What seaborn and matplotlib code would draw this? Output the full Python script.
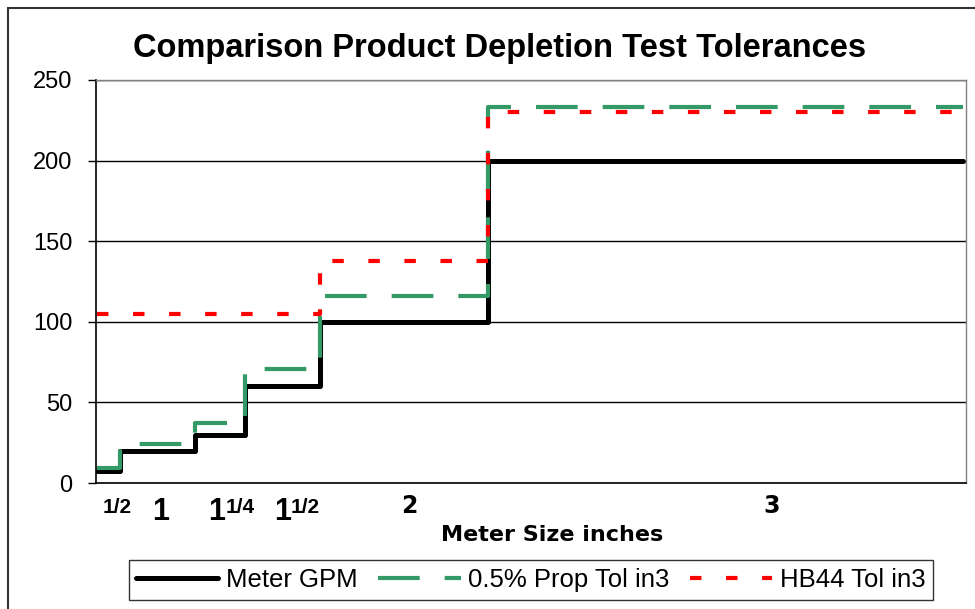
import pandas as pd
import seaborn as sns
import matplotlib.pyplot as plt
import matplotlib.transforms as mtransforms
from matplotlib.patches import Rectangle

# category axis has no ticks, values change in steps at these positions (0..100)
step_x = [0, 2.7, 11.3, 17.1, 25.7, 45.1, 100]
meter_gpm = [7.5, 20, 30, 60, 100, 200]
prop_tol = [9, 24, 37, 71, 116, 233]
hb44_tol = [105, 105, 105, 105, 138, 230]

# meter size labels written under the axis (whole part, fraction part, position)
size_whole = ["", "1", "1", "1", "2", "3"]
size_frac = ["1/2", "", "1/4", "1/2", "", ""]
size_x = [2.3, 7.3, 14.8, 22.4, 36.1, 77.9]

y_ticks = [0, 50, 100, 150, 200, 250]

sns.set_style("white")
plt.rcParams['font.family'] = ['Liberation Sans', 'DejaVu Sans']
plt.rcParams['text.color'] = 'black'
plt.rcParams['ytick.color'] = 'black'
plt.rcParams['xtick.color'] = 'black'
plt.rcParams['axes.labelcolor'] = 'black'

# last level repeated so the step reaches the right edge
df = pd.DataFrame({
    "x": step_x,
    "Meter GPM": meter_gpm + [meter_gpm[-1]],
    "0.5% Prop Tol in3": prop_tol + [prop_tol[-1]],
    "HB44 Tol in3": hb44_tol + [hb44_tol[-1]],
})

fig, ax = plt.subplots(figsize=(9.75, 6.09), dpi=100)
fig.subplots_adjust(left=96 / 975, right=966 / 975, top=1 - 80 / 609, bottom=1 - 483 / 609)

sns.lineplot(data=df, x="x", y="Meter GPM", ax=ax, color="black", lw=3.6,
             drawstyle="steps-post", label="Meter GPM")
sns.lineplot(data=df, x="x", y="0.5% Prop Tol in3", ax=ax, color="#339966", lw=3,
             linestyle=(0, (10, 6)), drawstyle="steps-post", label="0.5% Prop Tol in3")
sns.lineplot(data=df, x="x", y="HB44 Tol in3", ax=ax, color="#ff0000", lw=3,
             linestyle=(0, (2.75, 5.9)), drawstyle="steps-post", label="HB44 Tol in3")

ax.set_xlim(-0.115, 100.35)
ax.set_ylim(0, 250)
ax.set_yticks(y_ticks)
ax.set_xticks([])
ax.set_xlabel("")
ax.set_ylabel("")
ax.yaxis.grid(True, color="black", lw=1)
ax.set_axisbelow(True)
ax.tick_params(axis="y", direction="out", length=6, width=1, color="black",
               pad=11, labelsize=17, labelcolor="black", left=True)

for side in ["top", "right"]:
    ax.spines[side].set_color("#808080")
    ax.spines[side].set_linewidth(1)
for side in ["left", "bottom"]:
    ax.spines[side].set_color("black")
    ax.spines[side].set_linewidth(1.2)

# meter size labels
trans = mtransforms.blended_transform_factory(ax.transData, ax.transAxes)
for whole, frac, xpos in zip(size_whole, size_frac, size_x):
    if whole and frac:
        ax.text(xpos, -0.0918, whole, transform=trans, ha="right", va="baseline",
                fontsize=22, fontweight="bold")
        ax.text(xpos, -0.0744, frac, transform=trans, ha="left", va="baseline",
                fontsize=15, fontweight="bold")
    elif whole == "1":
        ax.text(xpos, -0.0918, whole, transform=trans, ha="center", va="baseline",
                fontsize=22, fontweight="bold")
    elif whole:
        ax.text(xpos, -0.0744, whole, transform=trans, ha="center", va="baseline",
                fontsize=17, fontweight="bold", family="DejaVu Sans")
    else:
        ax.text(xpos, -0.0744, frac, transform=trans, ha="center", va="baseline",
                fontsize=15, fontweight="bold")

fig.text(552 / 975, 1 - 541 / 609, "Meter Size inches", ha="center", va="baseline",
         fontsize=16, fontweight="bold", family="DejaVu Sans")
fig.text(500 / 975, 1 - 57 / 609, "Comparison Product Depletion Test Tolerances",
         ha="center", va="baseline", fontsize=23.5, fontweight="bold")

leg = ax.legend(loc="center", bbox_to_anchor=(531 / 975, 1 - 580 / 609),
                bbox_transform=fig.transFigure, ncol=3, fontsize=18.5, frameon=True,
                fancybox=False, edgecolor="black", handlelength=3.2,
                handletextpad=0.3, columnspacing=0.8, borderpad=0.3,
                borderaxespad=0)
leg.get_frame().set_linewidth(1)

# outer chart border
fig.add_artist(Rectangle((8 / 975, -0.05), 1.2, 1 - 8 / 609 + 0.05,
                         transform=fig.transFigure, fill=False,
                         edgecolor="#333333", lw=1.5))

plt.savefig("out.png", dpi=100)
